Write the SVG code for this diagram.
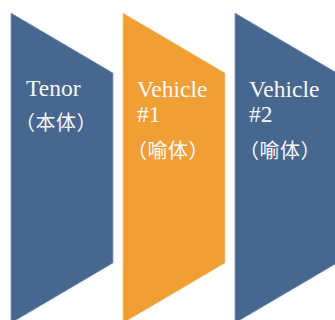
<svg xmlns="http://www.w3.org/2000/svg" width="335" height="320" viewBox="0 0 335 320">
  <style>
    .blue { fill: #47678F; stroke: #8aa0bb; stroke-width: 0.8; }
    .orange { fill: #F09F35; stroke: #f7c98c; stroke-width: 0.8; }
    .lat { font-family: "Liberation Serif", "Times New Roman", serif; font-size: 23.5px; fill: #F8F8F8; }
    .cjk { font-family: "Noto Sans CJK SC", sans-serif; font-size: 20px; letter-spacing: 0.5px; fill: #F8F8F8; }
  </style>
  <rect width="335" height="320" fill="#ffffff"/>
  <g id="tenor">
    <polygon class="blue" points="11,13 113,73 113,263 11,323"/>
    <text class="lat" x="26" y="96">Tenor</text>
    <text class="cjk" x="15" y="130">（本体）</text>
  </g>
  <g id="vehicle1">
    <polygon class="orange" points="123,13 225,73 225,263 123,323"/>
    <text class="lat" x="137" y="97">Vehicle</text>
    <text class="lat" x="137" y="122">#1</text>
    <text class="cjk" x="127" y="158">（喻体）</text>
  </g>
  <g id="vehicle2">
    <polygon class="blue" points="235,13 337,73 337,263 235,323"/>
    <text class="lat" x="249" y="97">Vehicle</text>
    <text class="lat" x="249" y="122">#2</text>
    <text class="cjk" x="239" y="158">（喻体）</text>
  </g>
  <g id="connectors"/>
</svg>
